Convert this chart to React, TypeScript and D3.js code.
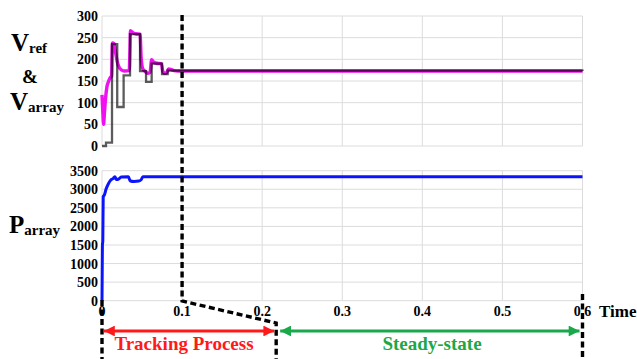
import React, { useEffect, useRef } from "react";
import * as d3 from "d3";

// MPPT reference voltage (step output of the tracker)
const vArray: [number, number][] = [
  [0, 0], [0.005, 8], [0.0125, 235], [0.019, 90], [0.027, 163], [0.035, 258],
  [0.0475, 173], [0.055, 148], [0.062, 190], [0.075, 166], [0.082, 174], [0.6, 173],
];

// measured array voltage
const vRef: [number, number][] = [
  [0, 118], [0.001, 80], [0.002, 50], [0.003, 75], [0.004, 100], [0.005, 120],
  [0.006, 135], [0.008, 148], [0.01, 157], [0.012, 162], [0.0125, 200], [0.013, 238],
  [0.015, 236], [0.017, 215], [0.019, 195], [0.021, 183], [0.024, 176], [0.028, 173],
  [0.034, 174], [0.035, 230], [0.0355, 266], [0.038, 262], [0.042, 259], [0.0475, 258],
  [0.049, 200], [0.051, 178], [0.054, 172], [0.057, 168], [0.06, 170], [0.062, 199],
  [0.064, 194], [0.068, 191], [0.074, 190], [0.076, 172], [0.078, 168], [0.081, 170],
  [0.083, 178], [0.086, 177], [0.09, 174], [0.095, 173], [0.6, 173],
];

const pArray: [number, number][] = [
  [0, 0], [0.0005, 1500], [0.001, 1600], [0.0015, 2800], [0.003, 2850], [0.005, 3000],
  [0.008, 3150], [0.011, 3250], [0.014, 3290], [0.016, 3340], [0.018, 3260], [0.021, 3280],
  [0.024, 3330], [0.033, 3340], [0.035, 3230], [0.04, 3210], [0.046, 3220], [0.049, 3260],
  [0.051, 3340], [0.6, 3340],
];

const timeTicks = [0, 0.1, 0.2, 0.3, 0.4, 0.5, 0.6];
const vTicks = [0, 50, 100, 150, 200, 250, 300];
const pTicks = [0, 500, 1000, 1500, 2000, 2500, 3000, 3500];

// zoom marker: 0.1 in the plot maps to this time on the phase bar
const zoomT = 0.2175;

const FONT = "'Liberation Serif', 'Times New Roman', serif";

export default function App() {
  const ref = useRef<SVGSVGElement>(null);

  useEffect(() => {
    const node = ref.current;
    if (!node) return;
    const svg = d3.select(node);
    svg.selectAll("*").remove();

    const x = d3.scaleLinear().domain([0, 0.6]).range([102, 582.5]);
    const yV = d3.scaleLinear().domain([0, 300]).range([146, 16]);
    const yP = d3.scaleLinear().domain([0, 3500]).range([300.7, 170.7]);

    const defs = svg.append("defs");
    const marker = (id: string, color: string, rev: boolean) =>
      defs.append("marker")
        .attr("id", id)
        .attr("viewBox", "0 0 10 10")
        .attr("refX", rev ? 0 : 10)
        .attr("refY", 5)
        .attr("markerWidth", 4.2)
        .attr("markerHeight", 3.6)
        .attr("markerUnits", "strokeWidth")
        .attr("orient", "auto")
        .append("path")
        .attr("d", rev ? "M10,0 L0,5 L10,10 z" : "M0,0 L10,5 L0,10 z")
        .attr("fill", color);
    marker("rs", "#ff1a1a", true);
    marker("re", "#ff1a1a", false);
    marker("gs", "#19a84a", true);
    marker("ge", "#19a84a", false);

    const panel = (y: d3.ScaleLinear<number, number>, ticks: number[]) => {
      const g = svg.append("g");
      g.selectAll("line.h").data(ticks).enter().append("line")
        .attr("x1", x(0)).attr("x2", x(0.6))
        .attr("y1", d => y(d)).attr("y2", d => y(d))
        .attr("stroke", "#dcdcdc").attr("stroke-width", 1);
      g.selectAll("line.v").data(timeTicks).enter().append("line")
        .attr("x1", d => x(d)).attr("x2", d => x(d))
        .attr("y1", y(ticks[0])).attr("y2", y(ticks[ticks.length - 1]))
        .attr("stroke", "#dcdcdc").attr("stroke-width", 1);
      g.selectAll("text").data(ticks).enter().append("text")
        .attr("x", 98).attr("y", d => y(d) + 5)
        .attr("text-anchor", "end")
        .attr("font-family", FONT).attr("font-weight", "bold").attr("font-size", 14)
        .text(d => d);
    };
    panel(yV, vTicks);
    panel(yP, pTicks);

    // x tick labels
    svg.append("g").selectAll("text").data(timeTicks).enter().append("text")
      .attr("x", d => x(d)).attr("y", 316)
      .attr("text-anchor", "middle")
      .attr("font-family", FONT).attr("font-weight", "bold").attr("font-size", 14)
      .text(d => d);

    const lineV = d3.line<[number, number]>().x(d => x(d[0])).y(d => yV(d[1]));
    svg.append("path")
      .attr("d", lineV.curve(d3.curveMonotoneX)(vRef))
      .attr("fill", "none").attr("stroke", "#f010f0").attr("stroke-width", 3.4);
    svg.append("path")
      .attr("d", d3.line<[number, number]>().x(d => x(d[0])).y(d => yV(d[1])).curve(d3.curveStepAfter)(vArray))
      .attr("fill", "none").attr("stroke", "#000").attr("stroke-opacity", 0.64).attr("stroke-width", 2.3);

    svg.append("path")
      .attr("d", d3.line<[number, number]>().x(d => x(d[0])).y(d => yP(d[1])).curve(d3.curveMonotoneX)(pArray))
      .attr("fill", "none").attr("stroke", "#0a14ff").attr("stroke-width", 3);

    // dashed zoom / phase markers
    const dash = (pts: [number, number][]) =>
      svg.append("path")
        .attr("d", d3.line()(pts))
        .attr("fill", "none").attr("stroke", "#000")
        .attr("stroke-width", 3.4).attr("stroke-dasharray", "6,3.5");
    dash([[x(0.1), 15], [x(0.1), 301], [x(zoomT), 323], [x(zoomT), 359]]);
    dash([[x(0), 300], [x(0), 359]]);
    dash([[x(0.6), 294], [x(0.6), 359]]);

    // phase arrows
    svg.append("line")
      .attr("x1", x(0) + 2).attr("x2", x(zoomT) - 2).attr("y1", 331).attr("y2", 331)
      .attr("stroke", "#ff1a1a").attr("stroke-width", 3)
      .attr("marker-start", "url(#rs)").attr("marker-end", "url(#re)");
    svg.append("line")
      .attr("x1", x(zoomT) + 4).attr("x2", x(0.6) - 3).attr("y1", 331).attr("y2", 331)
      .attr("stroke", "#19a84a").attr("stroke-width", 3)
      .attr("marker-start", "url(#gs)").attr("marker-end", "url(#ge)");

    svg.append("text")
      .attr("x", 184).attr("y", 350).attr("text-anchor", "middle")
      .attr("font-family", FONT).attr("font-weight", "bold").attr("font-size", 19)
      .attr("fill", "#ff1a1a").text("Tracking Process");
    svg.append("text")
      .attr("x", 432).attr("y", 350).attr("text-anchor", "middle")
      .attr("font-family", FONT).attr("font-weight", "bold").attr("font-size", 19)
      .attr("fill", "#19a84a").text("Steady-state");

    svg.append("text")
      .attr("x", 599).attr("y", 317)
      .attr("font-family", FONT).attr("font-weight", "bold").attr("font-size", 17)
      .text("Time");

    // y titles with subscripts
    const title = (tx: number, ty: number, main: string, sub: string) => {
      const t = svg.append("text").attr("x", tx).attr("y", ty)
        .attr("font-family", FONT).attr("font-weight", "bold");
      t.append("tspan").attr("font-size", 25).text(main);
      t.append("tspan").attr("font-size", 15).attr("dy", 2).text(sub);
    };
    title(11, 51, "V", "ref");
    svg.append("text").attr("x", 30).attr("y", 83).attr("text-anchor", "middle")
      .attr("font-family", FONT).attr("font-weight", "bold").attr("font-size", 19).text("&");
    title(10, 110, "V", "array");
    title(9, 233, "P", "array");
  }, []);

  return (
    <svg
      ref={ref}
      width={637}
      height={359}
      style={{ position: "absolute", left: 0, top: 0, background: "#fff" }}
    />
  );
}
